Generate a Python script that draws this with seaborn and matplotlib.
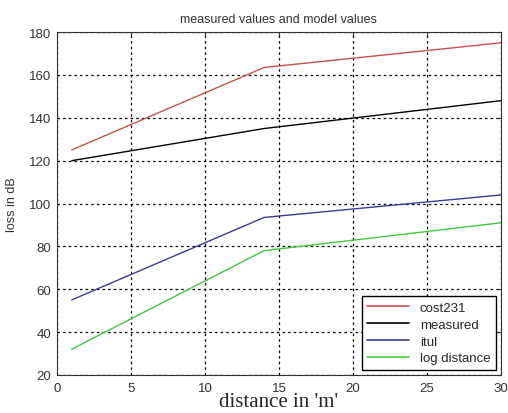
import matplotlib
matplotlib.use("Agg")
import matplotlib.pyplot as plt
import seaborn as sns
import pandas as pd

distance = [1, 14, 30]
cost231 = [125, 163.5, 175]
measured = [120, 135, 148]
itul = [55, 93.5, 104]
log_distance = [32, 78, 91]

series_names = ["cost231", "measured", "itul", "log distance"]
series_vals = [cost231, measured, itul, log_distance]
colors = ["#c85050", "#000000", "#3a3a9a", "#40c840"]
xticks = [0, 5, 10, 15, 20, 25, 30]
yticks = [20, 40, 60, 80, 100, 120, 140, 160, 180]

rows = []
for name, vals in zip(series_names, series_vals):
    for d, v in zip(distance, vals):
        rows.append({"distance": d, "loss": v, "model": name})
df = pd.DataFrame(rows)

sns.set_style("white")
plt.rcParams["font.family"] = ["Liberation Sans", "DejaVu Sans"]
fig = plt.figure(figsize=(5.08, 4.14), dpi=100)
ax = fig.add_axes([0.112, 0.092, 0.874, 0.828])
sns.lineplot(data=df, x="distance", y="loss", hue="model", hue_order=series_names,
             palette=colors, ax=ax, linewidth=1.0, legend=True)

ax.set_xlim(0, 30)
ax.set_ylim(20, 180)
ax.set_xticks(xticks)
ax.set_yticks(yticks)
ax.tick_params(axis="both", labelsize=9.5, colors="#333333", length=3,
               direction="in", top=True, right=True, pad=4)
ax.tick_params(axis="x", pad=5)
ax.grid(True, color="black", linestyle=(0, (2, 2.5)), linewidth=0.9)
for s in ax.spines.values():
    s.set_color("#333333")
    s.set_linewidth(0.8)

ax.set_title("measured values and model values", fontsize=9, color="#333333", pad=7)
ax.set_xlabel("distance in 'm'", fontsize=15, family="Liberation Serif", labelpad=-1)
ax.set_ylabel("loss in dB", fontsize=9, color="#333333", labelpad=8)

leg = ax.legend(loc="lower right", fontsize=9.5, frameon=True, fancybox=False,
                edgecolor="black", framealpha=1, borderaxespad=0.4, handlelength=3.2,
                labelspacing=0.35, borderpad=0.4)
leg.get_frame().set_linewidth(1.0)
for h in leg.get_lines():
    h.set_linewidth(1.2)

fig.savefig("out.png", dpi=100)
